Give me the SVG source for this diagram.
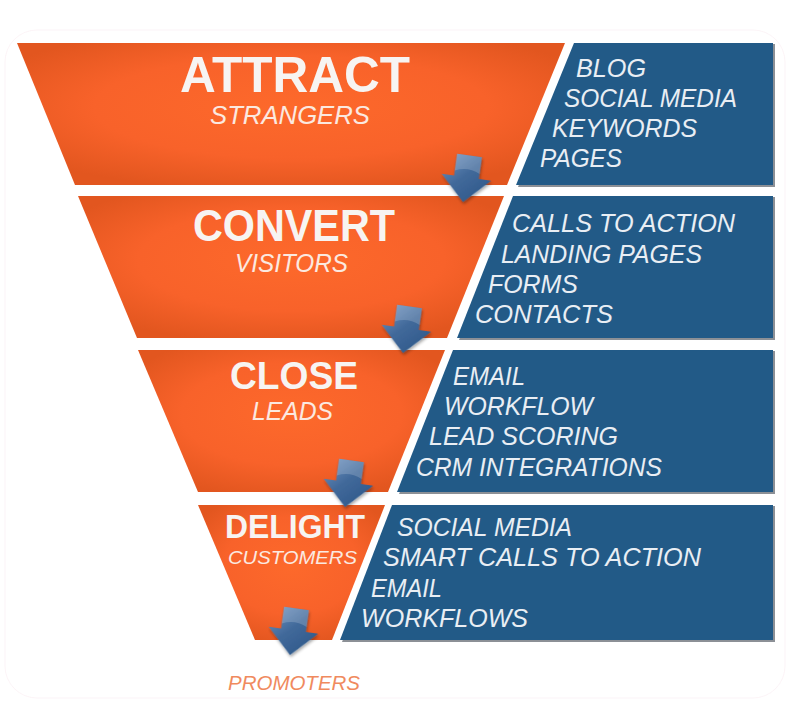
<svg xmlns="http://www.w3.org/2000/svg" width="789" height="701" viewBox="0 0 789 701">
<defs>
<radialGradient id="og" cx="0.5" cy="0.45" r="0.6">
<stop offset="0" stop-color="#fd692b"/>
<stop offset="0.6" stop-color="#f8622a"/>
<stop offset="1" stop-color="#e2561f"/>
</radialGradient>
<linearGradient id="ag" x1="0" y1="0" x2="1" y2="1">
<stop offset="0" stop-color="#7195c2"/>
<stop offset="0.45" stop-color="#41699a"/>
<stop offset="1" stop-color="#2a5486"/>
</linearGradient>
<filter id="sh" x="-30%" y="-30%" width="160%" height="160%">
<feDropShadow dx="1" dy="2" stdDeviation="1.5" flood-color="#000" flood-opacity="0.35"/>
</filter>
</defs>
<style>
.org{fill:url(#og)}
.blu{fill:#225a87}
.bsh{fill:#8c9096}
.t1{font-family:"Liberation Sans",Arial,sans-serif;font-weight:bold;fill:#f7f4f2}
.t2{font-family:"Liberation Sans",Arial,sans-serif;font-style:italic;fill:#fbe9e0}
.li{font-family:"Liberation Sans",Arial,sans-serif;font-style:italic;font-size:25px;fill:#e9eef4}
.arr{fill:url(#ag);filter:url(#sh)}
.gl{fill:#ffffff;opacity:0.18}
</style>
<rect x="0" y="0" width="789" height="701" fill="#ffffff"/>
<rect x="5" y="30" width="780" height="668" rx="32" fill="#ffffff" stroke="#f5d3df" stroke-width="1" stroke-opacity="0.25"/>

<g id="attract">
<polygon class="org" points="17,43 565,43 507,185 75,185"/>
<polygon class="bsh" points="576,44 775,44 775,187 518,187"/>
<polygon class="blu" points="574,43 773,43 773,185 516,185"/>
<text class="t1" x="180" y="92" font-size="50" textLength="230" lengthAdjust="spacingAndGlyphs">ATTRACT</text>
<text class="t2" x="210" y="124" font-size="25" textLength="160" lengthAdjust="spacingAndGlyphs">STRANGERS</text>
<text class="li" x="576" y="77" textLength="70" lengthAdjust="spacingAndGlyphs">BLOG</text>
<text class="li" x="564" y="107" textLength="173" lengthAdjust="spacingAndGlyphs">SOCIAL MEDIA</text>
<text class="li" x="552" y="137" textLength="145" lengthAdjust="spacingAndGlyphs">KEYWORDS</text>
<text class="li" x="540" y="167" textLength="82" lengthAdjust="spacingAndGlyphs">PAGES</text>
</g>

<g id="convert">
<polygon class="org" points="78,196 504,196 447,338 137,338"/>
<polygon class="bsh" points="515,197 775,197 775,340 459,340"/>
<polygon class="blu" points="513,196 773,196 773,338 457,338"/>
<text class="t1" x="193" y="241" font-size="44" textLength="202" lengthAdjust="spacingAndGlyphs">CONVERT</text>
<text class="t2" x="235" y="272" font-size="25" textLength="113" lengthAdjust="spacingAndGlyphs">VISITORS</text>
<text class="li" x="512" y="232" textLength="223" lengthAdjust="spacingAndGlyphs">CALLS TO ACTION</text>
<text class="li" x="501" y="263" textLength="201" lengthAdjust="spacingAndGlyphs">LANDING PAGES</text>
<text class="li" x="488" y="293" textLength="90" lengthAdjust="spacingAndGlyphs">FORMS</text>
<text class="li" x="475" y="323" textLength="138" lengthAdjust="spacingAndGlyphs">CONTACTS</text>
</g>

<g id="close">
<polygon class="org" points="138,350 445,350 388,492 198,492"/>
<polygon class="bsh" points="455,351 775,351 775,494 399,494"/>
<polygon class="blu" points="453,350 773,350 773,492 397,492"/>
<text class="t1" x="230" y="389" font-size="39" textLength="128" lengthAdjust="spacingAndGlyphs">CLOSE</text>
<text class="t2" x="252" y="420" font-size="25" textLength="81" lengthAdjust="spacingAndGlyphs">LEADS</text>
<text class="li" x="453" y="385" textLength="72" lengthAdjust="spacingAndGlyphs">EMAIL</text>
<text class="li" x="444" y="415" textLength="149" lengthAdjust="spacingAndGlyphs">WORKFLOW</text>
<text class="li" x="429" y="445" textLength="189" lengthAdjust="spacingAndGlyphs">LEAD SCORING</text>
<text class="li" x="416" y="476" textLength="246" lengthAdjust="spacingAndGlyphs">CRM INTEGRATIONS</text>
</g>

<g id="delight">
<polygon class="org" points="198,505 385,505 332,640 255,640"/>
<polygon class="bsh" points="394,506 775,506 775,642 342,642"/>
<polygon class="blu" points="392,505 773,505 773,640 340,640"/>
<text class="t1" x="225" y="538" font-size="33" textLength="140" lengthAdjust="spacingAndGlyphs">DELIGHT</text>
<text class="t2" x="228" y="564" font-size="19" textLength="129" lengthAdjust="spacingAndGlyphs">CUSTOMERS</text>
<text class="li" x="397" y="536" textLength="175" lengthAdjust="spacingAndGlyphs">SOCIAL MEDIA</text>
<text class="li" x="383" y="566" textLength="318" lengthAdjust="spacingAndGlyphs">SMART CALLS TO ACTION</text>
<text class="li" x="371" y="597" textLength="71" lengthAdjust="spacingAndGlyphs">EMAIL</text>
<text class="li" x="361" y="627" textLength="167" lengthAdjust="spacingAndGlyphs">WORKFLOWS</text>
</g>

<g id="promoters">
<text class="t2" x="228" y="690" font-size="21" style="fill:#f08a5e" textLength="132" lengthAdjust="spacingAndGlyphs">PROMOTERS</text>
</g>

<g id="connectors">
<g transform="translate(463,202) rotate(8)">
<path class="arr" d="M-12.5,-47 L12.5,-47 L12.5,-25 L25,-25 L0,0 L-25,-25 L-12.5,-25 Z"/>
<path class="gl" d="M-12.5,-47 L12.5,-47 L12.5,-30 C4,-34 -4,-34 -12.5,-30 Z"/>
</g>
<g transform="translate(403,353) rotate(8)">
<path class="arr" d="M-12.5,-47 L12.5,-47 L12.5,-25 L25,-25 L0,0 L-25,-25 L-12.5,-25 Z"/>
<path class="gl" d="M-12.5,-47 L12.5,-47 L12.5,-30 C4,-34 -4,-34 -12.5,-30 Z"/>
</g>
<g transform="translate(345,507) rotate(8)">
<path class="arr" d="M-12.5,-47 L12.5,-47 L12.5,-25 L25,-25 L0,0 L-25,-25 L-12.5,-25 Z"/>
<path class="gl" d="M-12.5,-47 L12.5,-47 L12.5,-30 C4,-34 -4,-34 -12.5,-30 Z"/>
</g>
<g transform="translate(290,655) rotate(8)">
<path class="arr" d="M-12.5,-47 L12.5,-47 L12.5,-25 L25,-25 L0,0 L-25,-25 L-12.5,-25 Z"/>
<path class="gl" d="M-12.5,-47 L12.5,-47 L12.5,-30 C4,-34 -4,-34 -12.5,-30 Z"/>
</g>
</g>
</svg>
